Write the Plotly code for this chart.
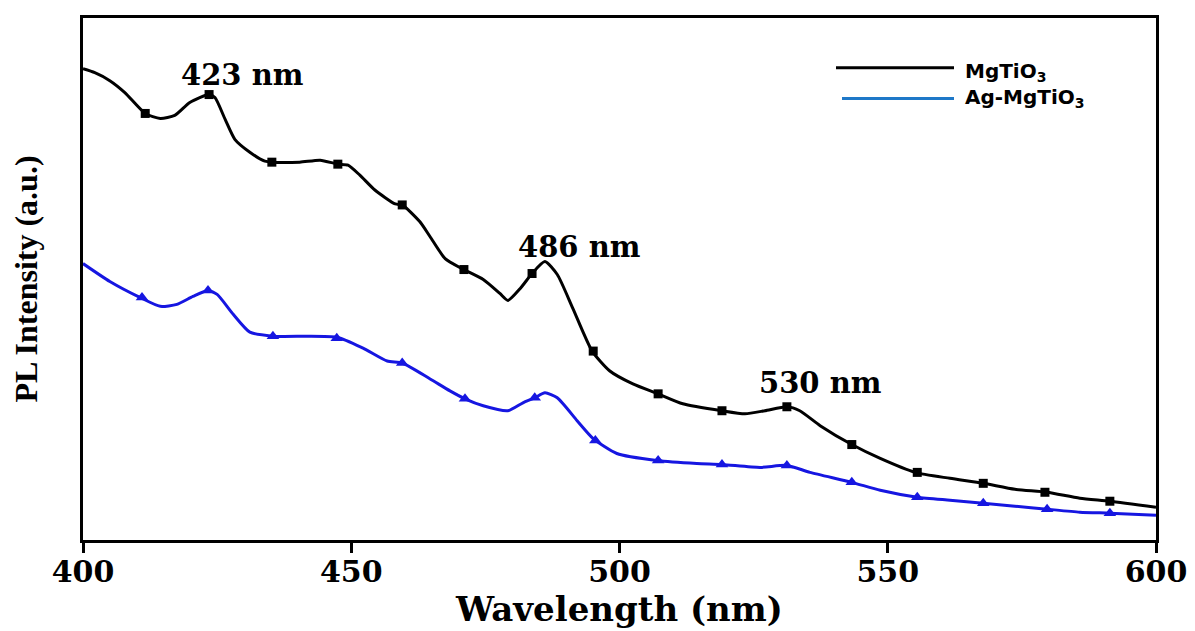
import plotly.graph_objects as go

# ---- data ----
wl_mgtio3 = [400.0, 402.2, 405.0, 407.8, 411.6, 414.4, 417.1, 419.9, 423.5, 424.6, 426.5, 428.3,
             431.1, 433.9, 435.2, 440.4, 444.2, 447.5, 449.4, 451.6, 454.4, 458.2, 459.5, 462.8,
             464.7, 467.5, 470.6, 474.6, 477.7, 479.2, 481.5, 483.7, 486.1, 488.4, 491.3, 494.9,
             498.2, 502.5, 507.2, 511.8, 519.1, 523.4, 527.1, 531.2, 533.6, 537.4, 543.3, 548.6,
             555.1, 561.6, 567.8, 573.7, 579.7, 585.8, 591.4, 600.0]
pl_mgtio3 = [474, 470, 462, 450, 429, 424, 427, 440, 448, 445, 423, 403,
             390, 381, 380, 380, 382, 378, 377, 367, 352, 338, 337, 320,
             305, 283, 273, 262, 248, 241, 253, 268, 280, 267, 233, 190,
             170, 157, 147, 137, 130, 127, 130, 134, 130, 115, 96, 82,
             68, 62, 57, 51, 48, 42, 39, 33]

wl_ag = [400.0, 405.0, 410.6, 414.4, 417.5, 420.5, 423.3, 425.0, 428.0, 431.1, 435.4, 447.3,
         452.2, 456.7, 459.5, 464.7, 468.4, 471.2, 474.6, 479.2, 482.0, 484.2, 486.1, 488.4,
         492.1, 495.1, 499.5, 507.0, 514.4, 519.1, 526.2, 531.2, 535.5, 543.3, 548.6, 555.5,
         561.6, 567.8, 573.7, 579.7, 585.8, 591.4, 600.0]
pl_ag = [278, 260, 244, 235, 237, 245, 251, 247, 227, 209, 205, 204,
         193, 180, 178, 162, 150, 142, 135, 130, 138, 143, 148, 143,
         120, 102, 87, 80, 77, 76, 73, 75, 68, 58, 50, 43,
         40, 37, 34, 31, 28, 27, 25]

mk_wl_mgtio3 = [411.6, 423.5, 435.2, 447.5, 459.5, 471.0, 483.7, 495.1, 507.2, 519.1, 531.2,
                543.3, 555.5, 567.8, 579.3, 591.4]
mk_pl_mgtio3 = [429, 448, 380, 378, 337, 272, 268, 190, 147, 130, 134, 96, 68, 57, 48, 39]

mk_wl_ag = [411.0, 423.3, 435.4, 447.3, 459.5, 471.2, 484.2, 495.5, 507.2, 519.1, 531.2,
            543.3, 555.5, 567.8, 579.7, 591.4]
mk_pl_ag = [244, 251, 205, 203, 178, 142, 143, 100, 80, 76, 75, 58, 43, 37, 31, 27]

x_ticks = [400, 450, 500, 550, 600]
peak_labels = ["423 nm", "486 nm", "530 nm"]
peak_label_x = [429.8, 492.6, 537.4]
peak_label_y = [468, 295, 158]

BLUE = "rgb(22,22,225)"

fig = go.Figure()
fig.add_trace(go.Scatter(x=wl_mgtio3, y=pl_mgtio3, mode="lines",
                         line=dict(color="black", width=3, shape="spline", smoothing=0.6),
                         showlegend=False, hoverinfo="skip"))
fig.add_trace(go.Scatter(x=mk_wl_mgtio3, y=mk_pl_mgtio3, mode="markers",
                         marker=dict(symbol="square", size=9, color="black"),
                         showlegend=False))
fig.add_trace(go.Scatter(x=wl_ag, y=pl_ag, mode="lines",
                         line=dict(color=BLUE, width=3, shape="spline", smoothing=0.6),
                         showlegend=False, hoverinfo="skip"))
fig.add_trace(go.Scatter(x=mk_wl_ag, y=mk_pl_ag, mode="markers",
                         marker=dict(symbol="triangle-up", size=11, color=BLUE),
                         showlegend=False))

for xx, lab, yy in zip(peak_label_x, peak_labels, peak_label_y):
    fig.add_annotation(x=xx, y=yy, text=lab, showarrow=False,
                       font=dict(family="DejaVu Serif", size=29, color="black", weight="bold"))

# custom legend (paper coordinates; plot area is 1073 x 525 px)
def px2paper_x(px):
    return (px - 83) / 1073

def px2paper_y(py):
    return (540 - py) / 525

fig.add_shape(type="line", xref="paper", yref="paper",
              x0=px2paper_x(836), x1=px2paper_x(954), y0=px2paper_y(65), y1=px2paper_y(65),
              line=dict(color="black", width=3))
fig.add_shape(type="line", xref="paper", yref="paper",
              x0=px2paper_x(842), x1=px2paper_x(954), y0=px2paper_y(96), y1=px2paper_y(96),
              line=dict(color="rgb(30,120,200)", width=3))
fig.add_annotation(xref="paper", yref="paper", x=px2paper_x(963), y=px2paper_y(69),
                   xanchor="left", yanchor="middle", showarrow=False,
                   text="MgTiO<sub>3</sub>",
                   font=dict(family="DejaVu Sans", size=20, color="black", weight="bold"))
fig.add_annotation(xref="paper", yref="paper", x=px2paper_x(963), y=px2paper_y(95),
                   xanchor="left", yanchor="middle", showarrow=False,
                   text="Ag-MgTiO<sub>3</sub>",
                   font=dict(family="DejaVu Sans", size=20, color="black", weight="bold"))

fig.update_layout(
    width=1187, height=623,
    margin=dict(l=75, r=39, t=7, b=91),
    paper_bgcolor="white", plot_bgcolor="white",
    showlegend=False,
)
fig.update_xaxes(range=[400, 600], tickvals=x_ticks, ticks="outside", ticklen=10, tickwidth=3,
                 tickcolor="black", showline=True, linewidth=3, linecolor="black", mirror=True,
                 showgrid=False, zeroline=False, ticklabelstandoff=-7,
                 tickfont=dict(family="DejaVu Serif", size=30, color="black", weight="bold"),
                 title=dict(text="Wavelength (nm)", standoff=0,
                            font=dict(family="DejaVu Serif", size=34, color="black", weight="bold")))
fig.update_yaxes(range=[0, 525], showticklabels=False, ticks="", showline=True, linewidth=3,
                 linecolor="black", mirror=True, showgrid=False, zeroline=False,
                 title=dict(text="PL Intensity (a.u.)", standoff=33,
                            font=dict(family="Liberation Serif", size=32, color="black", weight="bold")))

fig.write_html("out.html")
